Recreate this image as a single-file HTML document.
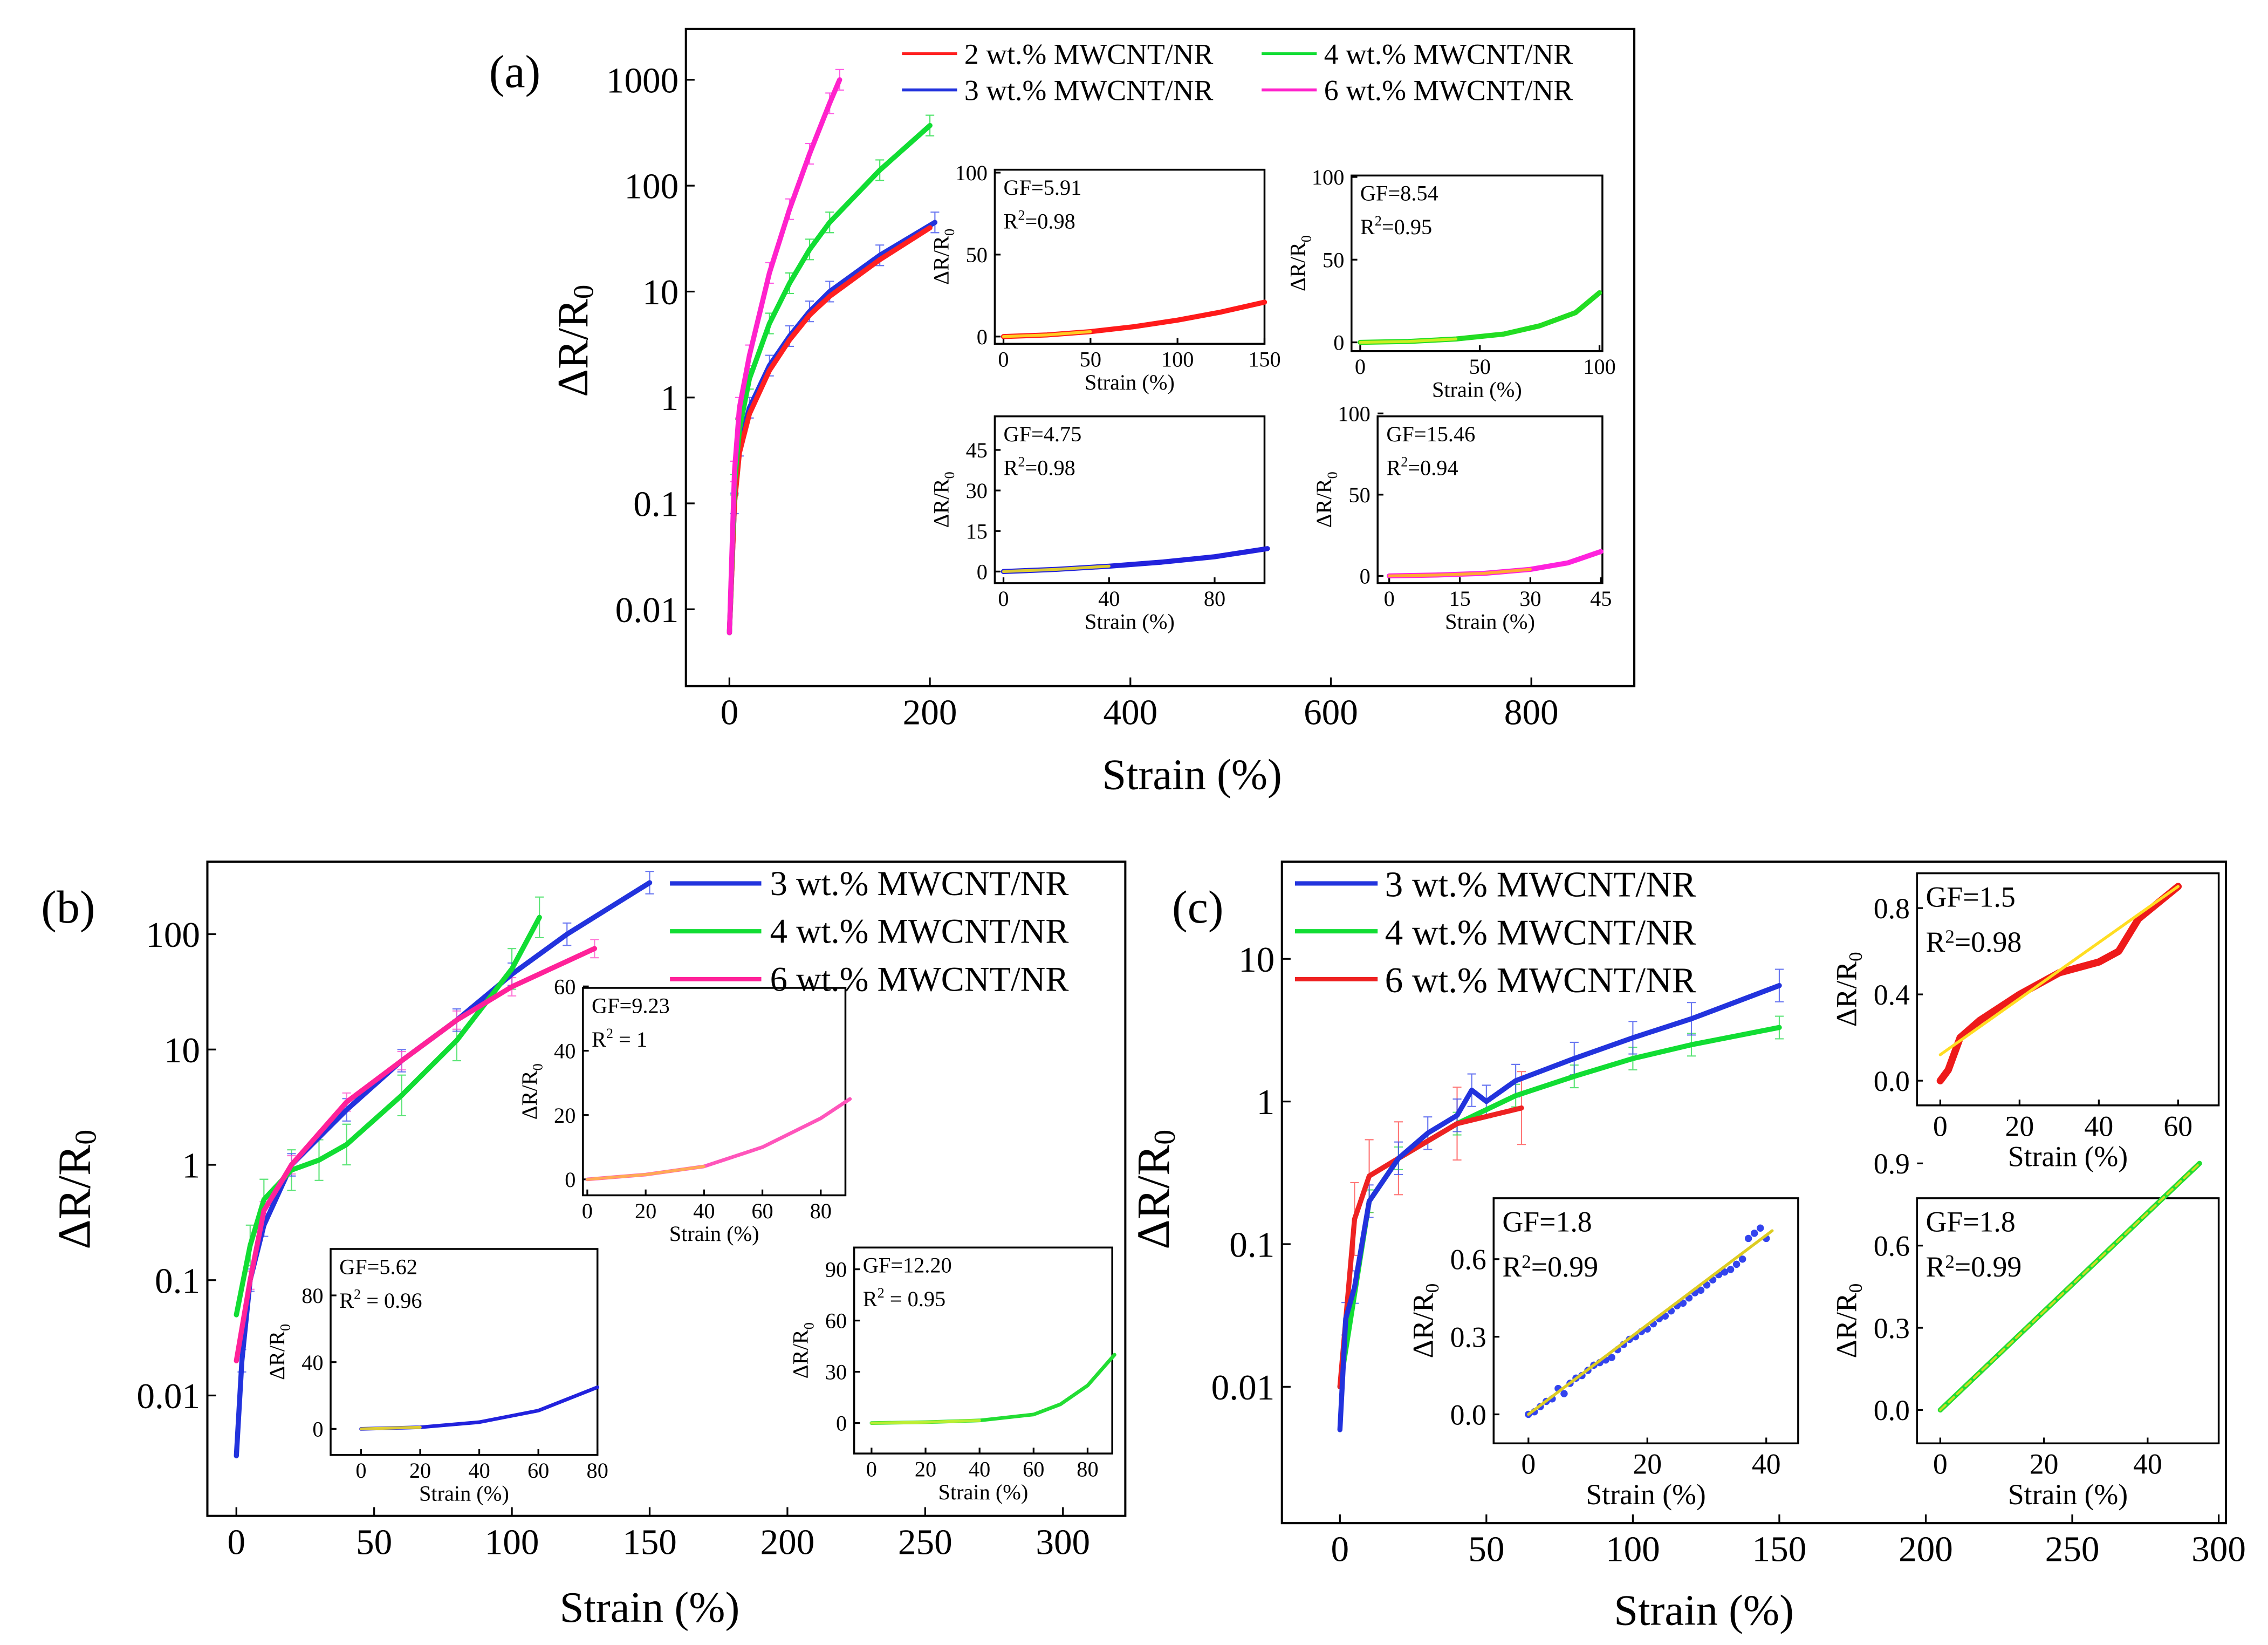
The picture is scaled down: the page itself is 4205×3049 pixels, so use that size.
<!DOCTYPE html>
<html><head><meta charset="utf-8"><title>Strain sensing curves</title>
<style>html,body{margin:0;padding:0;background:#fff}svg{display:block}text{font-family:"Liberation Serif",serif;fill:#000}</style>
</head><body>
<svg id="fig" width="4205" height="3049" viewBox="0 0 1564 1134" preserveAspectRatio="none" xmlns="http://www.w3.org/2000/svg">
<rect x="0" y="0" width="1564" height="1134" fill="#fff"/>
</svg>
<script>
// ---------- data ----------
const aStrainRed=[0,5,10,20,40,60,80,100,150,200];
const aValRed=[0.006,0.1,0.3,0.7,1.8,3.5,6,9,20,40];
const aStrainBlue=[0,5,10,20,40,60,80,100,150,205];
const aValBlue=[0.006,0.1,0.35,0.8,2,3.8,6.5,10,22,45];
const aStrainGreen=[0,5,10,20,40,60,80,100,150,200];
const aValGreen=[0.006,0.15,0.5,1.5,5,12,25,45,140,370];
const aStrainPink=[0,5,10,20,40,60,80,100,110];
const aValPink=[0.006,0.2,0.8,2.5,15,60,200,600,1000];
const bStrainBlue=[0,2,5,10,20,40,60,80,100,120,150];
const bValBlue=[0.003,0.02,0.1,0.3,1,3,8,18,45,100,280];
const bStrainGreen=[0,5,10,20,30,40,60,80,100,110];
const bValGreen=[0.05,0.2,0.5,0.9,1.1,1.5,4,12,50,140];
const bStrainPink=[0,5,10,20,40,60,80,100,130];
const bValPink=[0.02,0.1,0.4,1,3.5,8,18,35,75];
const cStrainBlue=[0,2,5,10,20,30,40,45,50,60,80,100,120,150];
const cValBlue=[0.005,0.03,0.05,0.2,0.4,0.6,0.8,1.2,1.0,1.4,2,2.8,3.8,6.5];
const cStrainGreen=[0,10,20,40,60,80,100,120,150];
const cValGreen=[0.01,0.2,0.4,0.7,1.1,1.5,2,2.5,3.3];
const cStrainRed=[0,5,10,20,40,62];
const cValRed=[0.01,0.15,0.3,0.4,0.7,0.9];
// insets
const ia1X=[0,25,50,75,100,125,150], ia1Y=[0,1,3,6,10,15,21];
const ia2X=[0,20,40,60,75,90,100], ia2Y=[0,0.5,2,5,10,18,30];
const ia3X=[0,20,40,60,80,100], ia3Y=[0,0.8,2,3.5,5.5,8.5];
const ia4X=[0,10,20,30,38,45], ia4Y=[0,0.5,1.5,4,8,15];
const ib1X=[0,20,40,60,80,90], ib1Y=[0,1.5,4,10,19,25];
const ib2X=[0,20,40,60,80], ib2Y=[0,1,4,11,25];
const ib3X=[0,20,40,60,70,80,90], ib3Y=[0,0.5,1.5,5,11,22,40];
const ic1X=[0,2,5,10,20,25,30,40,45,50,60], ic1Y=[0,0.05,0.2,0.28,0.4,0.45,0.5,0.55,0.6,0.75,0.9];
const ic2X=[0,1,2,3,4,5,6,7,8,9,10,11,12,13,14,15,16,17,18,19,20,21,22,23,24,25,26,27,28,29,30,31,32,33,34,35,36,37,38,39,40];
const ic2Y=[0,0.01,0.03,0.05,0.06,0.1,0.08,0.12,0.14,0.15,0.17,0.19,0.2,0.21,0.22,0.25,0.27,0.29,0.3,0.32,0.33,0.35,0.37,0.38,0.4,0.42,0.43,0.45,0.47,0.48,0.5,0.52,0.54,0.55,0.56,0.58,0.6,0.68,0.7,0.72,0.68];
const ic3X=[0,10,20,30,40,50], ic3Y=[0,0.18,0.36,0.54,0.72,0.9];

const NS='http://www.w3.org/2000/svg';
const svg=document.getElementById('fig');
function mk(tag,attrs,name,parent){
  const el=document.createElementNS(NS,tag);
  for(const k in attrs) el.setAttribute(k,attrs[k]);
  
  
  (parent||svg).appendChild(el);return el;
}
function txt(x,y,s,size,name,anchor,extra){
  const t=mk('text',Object.assign({x:x,y:y,'font-size':size,'text-anchor':anchor||'middle'},extra||{}),name);
  t.innerHTML=s;return t;
}
function axis(px0,px1,vx0,vx1,py0,py1,vy0,vy1,log){
  return {fx:v=>px0+(v-vx0)/(vx1-vx0)*(px1-px0),
    fy:log?v=>py0+(Math.log10(v)-Math.log10(vy0))/(Math.log10(vy1)-Math.log10(vy0))*(py1-py0)
          :v=>py0+(v-vy0)/(vy1-vy0)*(py1-py0)};
}
function line(ax,xs,ys,color,w,name,dash){
  const d=xs.map((x,i)=>(i?'L':'M')+ax.fx(x).toFixed(1)+','+ax.fy(ys[i]).toFixed(1)).join('');
  return mk('path',{d:d,fill:'none',stroke:color,'stroke-width':w,'stroke-linejoin':'round','stroke-linecap':'round','stroke-dasharray':dash||'none'},name);
}
function errs(ax,xs,ys,e,color,name){
  xs.forEach((x,i)=>{
    if(i==0)return;
    const X=ax.fx(x),y1=ax.fy(ys[i]*(1+e)),y2=ax.fy(ys[i]/(1+e));
    mk('path',{d:`M${X},${y1}V${y2}M${X-3},${y1}h6M${X-3},${y2}h6`,stroke:color,'stroke-width':0.8,fill:'none',opacity:0.8},name);
  });
}
function frame(x0,y0,x1,y1,name,w){mk('rect',{x:x0,y:y0,width:x1-x0,height:y1-y0,fill:'none',stroke:'#000','stroke-width':w||1.5},name);}
function xticks(ax,vals,yb,size,name,len){vals.forEach(v=>{const X=ax.fx(v);
  mk('line',{x1:X,x2:X,y1:yb,y2:yb-(len||6),stroke:'#000','stroke-width':1.2},name+'-tick');
  txt(X,yb+size*1.05,String(v),size,name+'-label');});}
function yticks(ax,vals,xl,size,name,labels,len){vals.forEach((v,i)=>{const Y=ax.fy(v);
  mk('line',{x1:xl,x2:xl+(len||6),y1:Y,y2:Y,stroke:'#000','stroke-width':1.2},name+'-tick');
  txt(xl-5,Y+size*0.35,labels?labels[i]:String(v),size,name+'-label','end');});}
function ytitle(x,y,size,name){txt(x,y,'ΔR/R<tspan font-size="'+(size*0.65)+'" dy="4">0</tspan>',size,name,'middle',{transform:`rotate(-90 ${x} ${y})`});}

// ---------- Panel (a) ----------
const A=axis(503,1056,0,800,55,420,1000,0.01,true);
frame(473,20,1127,473,'panel-a-frame');
xticks(A,[0,200,400,600,800],473,25,'panel-a-x');
yticks(A,[1000,100,10,1,0.1,0.01],473,25,'panel-a-y');
ytitle(405,235,30,'panel-a-y-title');
txt(822,544,'Strain (%)',30,'panel-a-x-title');
txt(355,60,'(a)',32,'panel-a-label');
errs(A,aStrainPink,aValPink,0.25,'#ff33dd','a-pink-errors');
errs(A,aStrainGreen,aValGreen,0.25,'#22dd44','a-green-errors');
errs(A,aStrainBlue,aValBlue,0.25,'#4455ee','a-blue-errors');
line(A,aStrainBlue,aValBlue,'#2233dd',3.5,'a-series-3wt');
line(A,aStrainRed,aValRed,'#ff2020',3.5,'a-series-2wt');
line(A,aStrainGreen,aValGreen,'#11dd33',3.5,'a-series-4wt');
line(A,aStrainPink,aValPink,'#ff22cc',3.5,'a-series-6wt');
[['#ff2020','2 wt.%  MWCNT/NR',622,37],['#2233dd','3 wt.%  MWCNT/NR',622,62],['#11dd33','4 wt.%  MWCNT/NR',870,37],['#ff22cc','6 wt.%  MWCNT/NR',870,62]].forEach(l=>{
  mk('line',{x1:l[2],x2:l[2]+38,y1:l[3],y2:l[3],stroke:l[0],'stroke-width':2},'legend-a-swatch');
  txt(l[2]+43,l[3]+7,l[1],20,'legend-a-entry','start');});

function inset(cfg){
  const ax=axis(cfg.px[0],cfg.px[1],cfg.vx[0],cfg.vx[1],cfg.py[0],cfg.py[1],cfg.vy[0],cfg.vy[1],false);
  frame(cfg.f[0],cfg.f[1],cfg.f[2],cfg.f[3],cfg.n+'-frame',1.3);
  xticks(ax,cfg.xt,cfg.f[3],cfg.fs,cfg.n+'-x',4);
  yticks(ax,cfg.yt,cfg.f[0],cfg.fs,cfg.n+'-y',cfg.yl||null,4);
  ytitle(cfg.f[0]-cfg.yo,(cfg.f[1]+cfg.f[3])/2,cfg.fs,cfg.n+'-y-title');
  txt((cfg.f[0]+cfg.f[2])/2,cfg.f[3]+cfg.fs*2.1,'Strain (%)',cfg.fs,cfg.n+'-x-title');
  txt(cfg.f[0]+6,cfg.f[1]+cfg.fs*1.15,cfg.gf,cfg.fs,cfg.n+'-gf','start');
  txt(cfg.f[0]+6,cfg.f[1]+cfg.fs*2.7,'R<tspan font-size="'+cfg.fs*0.65+'" dy="-6">2</tspan><tspan dy="6">'+cfg.r2+'</tspan>',cfg.fs,cfg.n+'-r2','start');
  return ax;
}
let ax;
ax=inset({n:'inset-a1',f:[686,117,872,237],px:[692,872],vx:[0,150],py:[232,119],vy:[0,100],xt:[0,50,100,150],yt:[0,50,100],fs:15,yo:32,gf:'GF=5.91',r2:'=0.98'});
line(ax,ia1X,ia1Y,'#ff1a1a',3.5,'inset-a1-curve');line(ax,ia1X.slice(0,3),ia1Y.slice(0,3),'#ffcc22',2,'inset-a1-fit');
ax=inset({n:'inset-a2',f:[932,121,1105,242],px:[938,1103],vx:[0,100],py:[236,122],vy:[0,100],xt:[0,50,100],yt:[0,50,100],fs:15,yo:32,gf:'GF=8.54',r2:'=0.95'});
line(ax,ia2X,ia2Y,'#22dd22',3.5,'inset-a2-curve');line(ax,ia2X.slice(0,3),ia2Y.slice(0,3),'#ccee22',2,'inset-a2-fit');
ax=inset({n:'inset-a3',f:[686,287,872,402],px:[692,874],vx:[0,100],py:[394,299],vy:[0,51],xt:[0,40,80],yt:[0,15,30,45],fs:15,yo:32,gf:'GF=4.75',r2:'=0.98'});
line(ax,ia3X,ia3Y,'#2222dd',3.5,'inset-a3-curve');line(ax,ia3X.slice(0,3),ia3Y.slice(0,3),'#ddcc33',2,'inset-a3-fit');
ax=inset({n:'inset-a4',f:[950,287,1105,402],px:[958,1104],vx:[0,45],py:[397,285],vy:[0,100],xt:[0,15,30,45],yt:[0,50,100],fs:15,yo:32,gf:'GF=15.46',r2:'=0.94'});
line(ax,ia4X,ia4Y,'#ff22dd',3.5,'inset-a4-curve');line(ax,ia4X.slice(0,4),ia4Y.slice(0,4),'#ffaa33',2,'inset-a4-fit');

// ---------- Panel (b) ----------
const B=axis(163,733,0,300,644,962,100,0.01,true);
frame(143,594,776,1045,'panel-b-frame');
xticks(B,[0,50,100,150,200,250,300],1045,25,'panel-b-x');
yticks(B,[100,10,1,0.1,0.01],143,25,'panel-b-y');
ytitle(62,820,32,'panel-b-y-title');
txt(448,1118,'Strain (%)',30,'panel-b-x-title');
txt(47,636,'(b)',32,'panel-b-label');
errs(B,bStrainGreen,bValGreen,0.5,'#33dd55','b-green-errors');
errs(B,bStrainBlue,bValBlue,0.25,'#4455ee','b-blue-errors');
errs(B,bStrainPink,bValPink,0.2,'#ff55cc','b-pink-errors');
line(B,bStrainBlue,bValBlue,'#2233dd',3.5,'b-series-3wt');
line(B,bStrainGreen,bValGreen,'#11dd33',3.5,'b-series-4wt');
line(B,bStrainPink,bValPink,'#ff2299',3.5,'b-series-6wt');
[['#2233dd','3 wt.% MWCNT/NR',609],['#11dd33','4 wt.% MWCNT/NR',642],['#ff2299','6 wt.% MWCNT/NR',675]].forEach(l=>{
  mk('line',{x1:462,x2:525,y1:l[2],y2:l[2],stroke:l[0],'stroke-width':3},'legend-b-swatch');
  txt(531,l[2]+8,l[1],24,'legend-b-entry','start');});
ax=inset({n:'inset-b1',f:[402,681,583,824],px:[405,566],vx:[0,80],py:[813,680],vy:[0,60],xt:[0,20,40,60,80],yt:[0,20,40,60],fs:15,yo:32,gf:'GF=9.23',r2:' = 1'});
line(ax,ib1X,ib1Y,'#ff55bb',2.5,'inset-b1-curve');line(ax,ib1X.slice(0,3),ib1Y.slice(0,3),'#ffaa55',2,'inset-b1-fit');
ax=inset({n:'inset-b2',f:[228,861,412,1003],px:[249,412],vx:[0,80],py:[985,893],vy:[0,80],xt:[0,20,40,60,80],yt:[0,40,80],fs:15,yo:32,gf:'GF=5.62',r2:' = 0.96'});
line(ax,ib2X,ib2Y,'#2222dd',2.5,'inset-b2-curve');line(ax,ib2X.slice(0,2),ib2Y.slice(0,2),'#ddcc33',2,'inset-b2-fit');
ax=inset({n:'inset-b3',f:[589,860,767,1002],px:[601,750],vx:[0,80],py:[981,875],vy:[0,90],xt:[0,20,40,60,80],yt:[0,30,60,90],fs:15,yo:32,gf:'GF=12.20',r2:' = 0.95'});
line(ax,ib3X,ib3Y,'#22dd33',2.5,'inset-b3-curve');line(ax,ib3X.slice(0,3),ib3Y.slice(0,3),'#bbee33',2,'inset-b3-fit');

// ---------- Panel (c) ----------
const C=axis(924,1530,0,300,661,956,10,0.01,true);
frame(884,594,1535,1050,'panel-c-frame');
xticks(C,[0,50,100,150,200,250,300],1050,25,'panel-c-x');
yticks(C,[10,1,0.1,0.01],884,25,'panel-c-y',['10','1','0.1','0.01']);
ytitle(806,820,32,'panel-c-y-title');
txt(1175,1120,'Strain (%)',30,'panel-c-x-title');
txt(826,636,'(c)',32,'panel-c-label');
errs(C,cStrainRed,cValRed,0.8,'#ff5555','c-red-errors');
errs(C,cStrainGreen,cValGreen,0.2,'#33dd55','c-green-errors');
errs(C,cStrainBlue,cValBlue,0.3,'#4455ee','c-blue-errors');
line(C,cStrainGreen,cValGreen,'#11dd33',3.5,'c-series-4wt');
line(C,cStrainRed,cValRed,'#ee2222',3.5,'c-series-6wt');
line(C,cStrainBlue,cValBlue,'#2233dd',3.5,'c-series-3wt');
[['#2233dd','3 wt.%  MWCNT/NR',609],['#11dd33','4 wt.%  MWCNT/NR',642],['#ee2222','6 wt.%  MWCNT/NR',675]].forEach(l=>{
  mk('line',{x1:893,x2:950,y1:l[2],y2:l[2],stroke:l[0],'stroke-width':3},'legend-c-swatch');
  txt(955,l[2]+9,l[1],25,'legend-c-entry','start');});
ax=inset({n:'inset-c1',f:[1322,602,1530,762],px:[1338,1502],vx:[0,60],py:[745,626],vy:[0,0.8],xt:[0,20,40,60],yt:[0.0,0.4,0.8],yl:['0.0','0.4','0.8'],fs:20,yo:42,gf:'GF=1.5',r2:'=0.98'});
line(ax,ic1X,ic1Y,'#ee1a1a',5,'inset-c1-curve');line(ax,[0,60],[0.12,0.9],'#ffdd22',2,'inset-c1-fit');
ax=inset({n:'inset-c2',f:[1030,826,1240,995],px:[1054,1218],vx:[0,40],py:[975,868],vy:[0,0.6],xt:[0,20,40],yt:[0.0,0.3,0.6],yl:['0.0','0.3','0.6'],fs:20,yo:42,gf:'GF=1.8',r2:'=0.99'});
ic2X.forEach((x,i)=>{mk('circle',{cx:ax.fx(x),cy:ax.fy(ic2Y[i]),r:2.5,fill:'#3344ee'},'inset-c2-point');});
line(ax,[0,41],[0,0.71],'#ddcc22',2,'inset-c2-fit');
ax=inset({n:'inset-c3',f:[1322,826,1530,995],px:[1338,1481],vx:[0,40],py:[972,802],vy:[0,0.9],xt:[0,20,40],yt:[0.0,0.3,0.6,0.9],yl:['0.0','0.3','0.6','0.9'],fs:20,yo:42,gf:'GF=1.8',r2:'=0.99'});
line(ax,ic3X,ic3Y,'#22dd33',3.5,'inset-c3-curve');line(ax,ic3X,ic3Y,'#ccdd22',1.5,'inset-c3-fit','5,3');
</script>
</body></html>
